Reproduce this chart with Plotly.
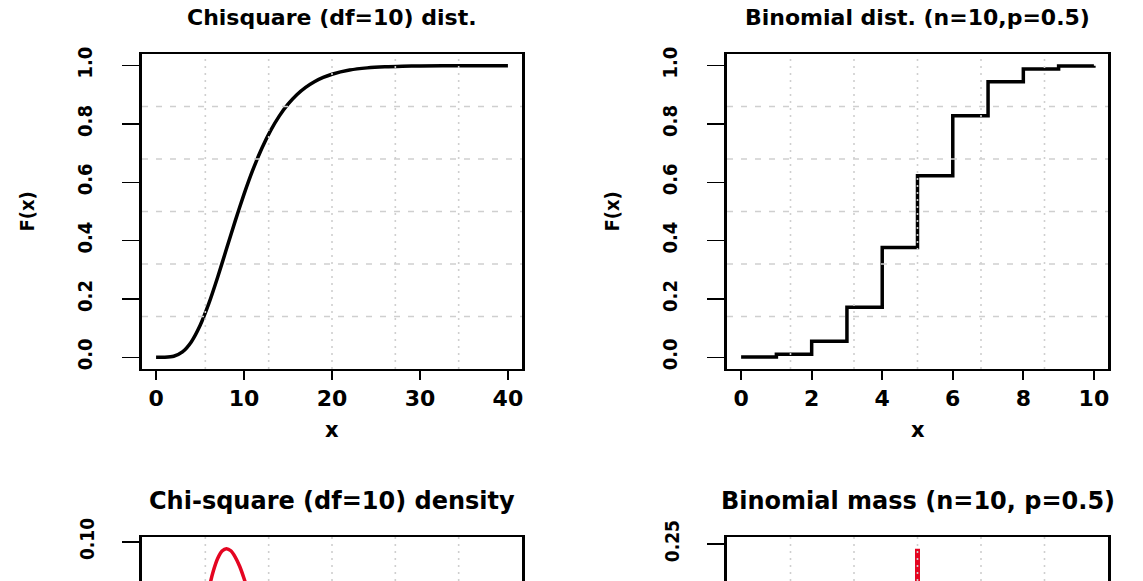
import plotly.graph_objects as go

W, H = 1143, 581

# ---------------- data ----------------
chi_x = [0, 1, 2, 3, 4, 5, 6, 7, 8, 9, 10, 11, 12, 13, 14, 15, 16, 17, 18, 19,
         20, 22, 24, 26, 28, 30, 35, 40]
chi_cdf = [0.0, 0.0002, 0.0037, 0.0186, 0.0527, 0.1088, 0.1847, 0.2746, 0.3712,
           0.4679, 0.5595, 0.6425, 0.7149, 0.7763, 0.8270, 0.8679, 0.9004, 0.9256,
           0.9450, 0.9597, 0.9707, 0.9849, 0.9924, 0.9963, 0.9982, 0.9991, 0.9999, 1.0]

binom_x = [0, 1, 2, 3, 4, 5, 6, 7, 8, 9, 10]
binom_cdf = [0.001, 0.011, 0.055, 0.172, 0.377, 0.623, 0.828, 0.945, 0.989, 0.999, 1.0]

dens_x = [0, 1, 2, 3, 4, 5, 6, 6.5, 7, 7.5, 8, 8.5, 9, 9.5, 10, 11, 12, 13, 14, 15,
          16, 18, 20, 22, 24, 26, 28, 30, 35, 40]
dens_y = [0.0, 0.0008, 0.0077, 0.0235, 0.0451, 0.0668, 0.0840, 0.0901, 0.0944, 0.0969,
          0.0977, 0.0970, 0.0949, 0.0918, 0.0877, 0.0779, 0.0669, 0.0559, 0.0456, 0.0365,
          0.0286, 0.0169, 0.0095, 0.0051, 0.0027, 0.0013, 0.0007, 0.0003, 0.0, 0.0]

pmf = [0.001, 0.010, 0.044, 0.117, 0.205, 0.246, 0.205, 0.117, 0.044, 0.010, 0.001]

chi_xticks = [0, 10, 20, 30, 40]
binom_xticks = [0, 2, 4, 6, 8, 10]
cdf_yticks = [0.0, 0.2, 0.4, 0.6, 0.8, 1.0]
dens_yticks = [0.0, 0.02, 0.04, 0.06, 0.08, 0.10]
pmf_yticks = [0.0, 0.05, 0.10, 0.15, 0.20, 0.25]

titles = ["Chisquare (df=10) dist.", "Binomial dist. (n=10,p=0.5)",
          "Chi-square (df=10) density", "Binomial mass (n=10, p=0.5)"]
xlab = "x"
ylab = "F(x)"

# ---------------- layout helpers ----------------
BLACK = "#000000"
RED = "#e40521"
GRID = "#cfcfcf"
NARROW = "DejaVu Sans Condensed, Liberation Sans, sans-serif"
WIDE = "DejaVu Sans, Verdana, sans-serif"

def px_x(p):
    return p / W

def px_y(p):
    return 1 - p / H

def rrange(lo, hi):
    d = (hi - lo) * 0.04
    return [lo - d, hi + d]

def grid_pos(r):
    return [r[0] + (r[1] - r[0]) * k / 6 for k in range(1, 6)]

# panel boxes in screen pixels
LEFT = (142, 522)
RIGHT = (727, 1108)
TOP = (54, 369)
BOT_TOP = 537
BOT_VIRTUAL_BOTTOM = 852

xr_chi = rrange(min(chi_x), max(chi_x))
xr_bin = rrange(min(binom_x), max(binom_x))
yr_cdf = rrange(min(chi_cdf), max(chi_cdf))
yr_bcdf = rrange(0.0, max(binom_cdf))
yr_dens_full = rrange(0.0, max(dens_y))
yr_pmf_full = rrange(0.0, max(pmf))

vis_frac = (H - BOT_TOP) / (BOT_VIRTUAL_BOTTOM - BOT_TOP)

def visible(r):
    return [r[1] - (r[1] - r[0]) * vis_frac, r[1]]

yr_dens = visible(yr_dens_full)
yr_pmf = visible(yr_pmf_full)

fig = go.Figure()

fig.add_trace(go.Scatter(x=chi_x, y=chi_cdf, mode="lines",
                         line=dict(color=BLACK, width=3.5, shape="spline", smoothing=0.6),
                         xaxis="x", yaxis="y", hoverinfo="skip"))
fig.add_trace(go.Scatter(x=binom_x, y=binom_cdf, mode="lines",
                         line=dict(color=BLACK, width=3.5, shape="hv"),
                         xaxis="x2", yaxis="y2", hoverinfo="skip"))
fig.add_trace(go.Scatter(x=dens_x, y=dens_y, mode="lines",
                         line=dict(color=RED, width=3.5, shape="spline", smoothing=0.6),
                         xaxis="x3", yaxis="y3", hoverinfo="skip"))
hx, hy = [], []
for k, p in zip(binom_x, pmf):
    hx += [k, k, None]
    hy += [0, p, None]
fig.add_trace(go.Scatter(x=hx, y=hy, mode="lines",
                         line=dict(color=RED, width=5),
                         xaxis="x4", yaxis="y4", hoverinfo="skip"))

tick_x_font = dict(family=WIDE, size=22, color=BLACK, weight="bold")

def xaxis(dom, rng, tv, top_only=False, anchor="y"):
    d = dict(domain=dom, range=rng, anchor=anchor, showgrid=False, zeroline=False,
             showline=True, linecolor=BLACK, linewidth=2, fixedrange=True,
             automargin=False)
    if top_only:
        d.update(side="top", mirror=False, ticks="", showticklabels=False,
                 tickvals=tv)
    else:
        d.update(mirror=True, ticks="outside", ticklen=9, tickwidth=2,
                 tickcolor=BLACK, tickvals=tv, ticktext=[str(v) for v in tv],
                 tickfont=tick_x_font, ticklabelstandoff=0)
    return d

def yaxis(dom, rng, tv, fmt, size, standoff, anchor="x"):
    return dict(domain=dom, range=rng, anchor=anchor, showgrid=False, zeroline=False,
                showline=True, linecolor=BLACK, linewidth=3, mirror=True,
                ticks="outside", ticklen=17, tickwidth=1.5, tickcolor=BLACK,
                tickvals=tv, tickformat=fmt, tickangle=-90,
                tickfont=dict(family=NARROW, size=size, color=BLACK, weight="bold"),
                ticklabelstandoff=standoff, fixedrange=True, automargin=False)

dom_left = [px_x(LEFT[0]), px_x(LEFT[1])]
dom_right = [px_x(RIGHT[0]), px_x(RIGHT[1])]
dom_top = [px_y(TOP[1]), px_y(TOP[0])]
dom_bot = [0.0, px_y(BOT_TOP)]

fig.update_layout(
    width=W, height=H, autosize=False,
    margin=dict(l=0, r=0, t=0, b=0, pad=0),
    paper_bgcolor="white", plot_bgcolor="white", showlegend=False,
    xaxis=xaxis(dom_left, xr_chi, chi_xticks, anchor="y"),
    yaxis=yaxis(dom_top, yr_cdf, cdf_yticks, ".1f", 20, 22, anchor="x"),
    xaxis2=xaxis(dom_right, xr_bin, binom_xticks, anchor="y2"),
    yaxis2=yaxis(dom_top, yr_bcdf, cdf_yticks, ".1f", 20, 22, anchor="x2"),
    xaxis3=xaxis(dom_left, xr_chi, chi_xticks, top_only=True, anchor="y3"),
    yaxis3=yaxis(dom_bot, yr_dens, dens_yticks, ".2f", 19, 20, anchor="x3"),
    xaxis4=xaxis(dom_right, xr_bin, binom_xticks, top_only=True, anchor="y4"),
    yaxis4=yaxis(dom_bot, yr_pmf, pmf_yticks, ".2f", 19, 20, anchor="x4"),
)

# R-style grid(): 6 equal cells, drawn over the data
shapes = []
panels = [("x", "y", xr_chi, yr_cdf, yr_cdf),
          ("x2", "y2", xr_bin, yr_bcdf, yr_bcdf),
          ("x3", "y3", xr_chi, yr_dens, yr_dens_full),
          ("x4", "y4", xr_bin, yr_pmf, yr_pmf_full)]
for xa, ya, xr, yr_vis, yr_full in panels:
    for gx in grid_pos(xr):
        shapes.append(dict(type="line", xref=xa, yref=ya, x0=gx, x1=gx,
                           y0=yr_vis[0], y1=yr_vis[1], layer="above",
                           line=dict(color=GRID, width=1.6, dash="2px,5px")))
    for gy in grid_pos(yr_full):
        if yr_vis[0] < gy < yr_vis[1]:
            shapes.append(dict(type="line", xref=xa, yref=ya, x0=xr[0], x1=xr[1],
                               y0=gy, y1=gy, layer="above",
                               line=dict(color=GRID, width=1.3, dash="6px,8px")))
fig.update_layout(shapes=shapes)

# text
title_top_font = dict(family=WIDE, size=22, color=BLACK, weight="bold")
title_bot_font = dict(family=WIDE, size=24, color=BLACK, weight="bold")
xlab_font = dict(family=WIDE, size=21, color=BLACK, weight="bold")
ylab_font = dict(family=NARROW, size=20, color=BLACK, weight="bold")

cx_left = px_x((LEFT[0] + LEFT[1]) / 2)
cx_right = px_x((RIGHT[0] + RIGHT[1]) / 2)
ann = []
for t, cx, cy, f in [(titles[0], cx_left, 17, title_top_font),
                     (titles[1], cx_right, 17, title_top_font),
                     (titles[2], cx_left, 501, title_bot_font),
                     (titles[3], cx_right, 501, title_bot_font)]:
    ann.append(dict(text=t, x=cx, y=px_y(cy), xref="paper", yref="paper",
                    xanchor="center", yanchor="middle", showarrow=False, font=f))
for cx in (cx_left, cx_right):
    ann.append(dict(text=xlab, x=cx, y=px_y(430), xref="paper", yref="paper",
                    xanchor="center", yanchor="middle", showarrow=False, font=xlab_font))
for bx in (LEFT[0], RIGHT[0]):
    ann.append(dict(text=ylab, x=px_x(bx - 115), y=px_y((TOP[0] + TOP[1]) / 2),
                    xref="paper", yref="paper", xanchor="center", yanchor="middle",
                    textangle=-90, showarrow=False, font=ylab_font))
fig.update_layout(annotations=ann)

fig.write_html("out.html",
               config={"displayModeBar": False, "staticPlot": True},
               post_script="document.body.style.margin='0';document.body.style.padding='0';")
